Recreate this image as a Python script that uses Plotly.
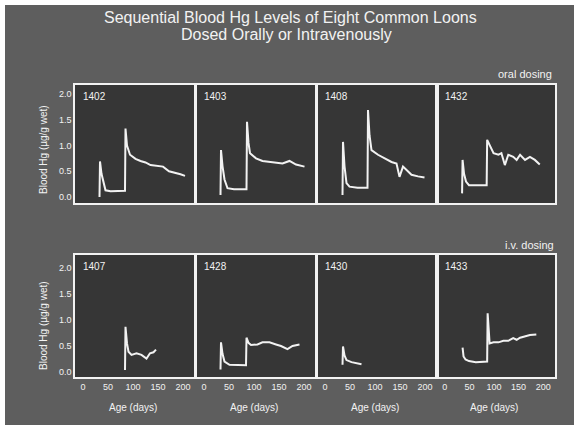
import plotly.graph_objects as go

# ---------------- data ----------------
bird_ids = ["1402", "1403", "1408", "1432", "1407", "1428", "1430", "1433"]

days_1402 = [33, 34, 37, 41, 45, 55, 70, 84, 85, 88, 94, 105, 115, 125, 135, 148, 160, 172, 185, 195, 204]
hg_1402 = [0.00, 0.69, 0.45, 0.28, 0.13, 0.11, 0.12, 0.12, 1.33, 1.00, 0.82, 0.74, 0.70, 0.67, 0.62, 0.60, 0.59, 0.50, 0.47, 0.44, 0.41]

days_1403 = [33, 34, 37, 41, 47, 60, 75, 85, 86, 89, 92, 104, 117, 131, 144, 157, 171, 184, 201]
hg_1403 = [0.04, 0.91, 0.60, 0.34, 0.17, 0.15, 0.15, 0.15, 1.46, 1.05, 0.85, 0.75, 0.70, 0.68, 0.67, 0.65, 0.70, 0.63, 0.59]

days_1408 = [35, 36, 39, 43, 49, 65, 85, 86, 89, 93, 106, 119, 133, 143, 149, 156, 163, 173, 186, 199]
hg_1408 = [0.04, 1.07, 0.60, 0.27, 0.20, 0.18, 0.18, 1.69, 1.20, 0.91, 0.82, 0.76, 0.68, 0.65, 0.39, 0.59, 0.52, 0.43, 0.40, 0.38]

days_1432 = [35, 36, 39, 43, 49, 65, 85, 86, 89, 93, 99, 109, 115, 122, 129, 139, 146, 153, 163, 173, 183, 193]
hg_1432 = [0.07, 0.72, 0.45, 0.30, 0.23, 0.23, 0.23, 1.11, 1.05, 0.98, 0.85, 0.82, 0.85, 0.62, 0.82, 0.78, 0.72, 0.82, 0.72, 0.78, 0.72, 0.63]

days_1407 = [84, 85, 88, 91, 97, 107, 117, 127, 134, 141, 146]
hg_1407 = [0.04, 0.87, 0.55, 0.39, 0.33, 0.36, 0.33, 0.26, 0.36, 0.38, 0.43]

days_1428 = [33, 34, 37, 41, 51, 65, 84, 85, 89, 94, 107, 117, 131, 144, 154, 167, 177, 191]
hg_1428 = [0.05, 0.57, 0.35, 0.20, 0.14, 0.13, 0.13, 0.66, 0.56, 0.52, 0.53, 0.57, 0.57, 0.53, 0.50, 0.44, 0.50, 0.53]

days_1430 = [35, 36, 39, 43, 53, 73]
hg_1430 = [0.14, 0.49, 0.32, 0.23, 0.19, 0.15]

days_1433 = [36, 38, 42, 49, 63, 84, 86, 87, 91, 99, 109, 119, 129, 139, 146, 153, 163, 173, 186]
hg_1433 = [0.47, 0.30, 0.24, 0.21, 0.19, 0.20, 0.20, 1.13, 0.55, 0.57, 0.57, 0.60, 0.60, 0.65, 0.62, 0.66, 0.68, 0.71, 0.72]

x_tick_vals = [0, 50, 100, 150, 200]
x_tick_text = ["0", "50", "100", "150", "200"]
y_tick_vals = [0, 0.5, 1.0, 1.5, 2.0]
y_tick_text = ["0.0", "0.5", "1.0", "1.5", "2.0"]

series = [
    (days_1402, hg_1402), (days_1403, hg_1403), (days_1408, hg_1408), (days_1432, hg_1432),
    (days_1407, hg_1407), (days_1428, hg_1428), (days_1430, hg_1430), (days_1433, hg_1433),
]

# ---------------- layout geometry (pixels) ----------------
W, H = 574, 432
col_px = [(75, 195), (196, 316), (317, 437), (437, 555)]
row_px = [(85, 203), (255, 377)]
row_yrange = [[-0.117, 2.175], [-0.096, 2.25]]

def px_x(p):
    return p / W

def px_y(p):
    return 1 - p / H

FONT = "Liberation Sans, Arial, sans-serif"
WHITE = "#f2f2f2"
SLIDE = "#5e5e5e"
PANEL = "#363636"

fig = go.Figure()
layout = dict(
    width=W, height=H,
    margin=dict(l=0, r=0, t=0, b=0),
    paper_bgcolor="white",
    plot_bgcolor="rgba(0,0,0,0)",
    showlegend=False,
    font=dict(family=FONT, color=WHITE),
)

shapes = [dict(type="rect", xref="paper", yref="paper",
               x0=px_x(5), x1=px_x(574), y0=px_y(425), y1=px_y(5),
               fillcolor=SLIDE, line=dict(width=0), layer="below")]
annotations = []

for i, (d, v) in enumerate(series):
    r, c = divmod(i, 4)
    n = i + 1
    xa = "xaxis" if n == 1 else f"xaxis{n}"
    ya = "yaxis" if n == 1 else f"yaxis{n}"
    xr = "x" if n == 1 else f"x{n}"
    yr = "y" if n == 1 else f"y{n}"
    x0, x1 = col_px[c]
    y0, y1 = row_px[r]
    fig.add_trace(go.Scatter(x=d, y=v, mode="lines", xaxis=xr, yaxis=yr,
                             line=dict(color=WHITE, width=2), hoverinfo="skip"))
    layout[xa] = dict(domain=[px_x(x0), px_x(x1)], anchor=yr, range=[-16, 224],
                      showline=True, linecolor=WHITE, linewidth=1.5, mirror=True,
                      showgrid=False, zeroline=False, ticks="",
                      tickvals=x_tick_vals, ticktext=x_tick_text,
                      showticklabels=(r == 1),
                      tickfont=dict(size=9, color=WHITE, family=FONT))
    layout[ya] = dict(domain=[px_y(y1), px_y(y0)], anchor=xr, range=row_yrange[r],
                      showline=True, linecolor=WHITE, linewidth=1.5, mirror=True,
                      showgrid=False, zeroline=False, ticks="",
                      tickvals=y_tick_vals, ticktext=y_tick_text,
                      showticklabels=(c == 0),
                      tickfont=dict(size=9, color=WHITE, family=FONT))
    shapes.append(dict(type="rect", xref="paper", yref="paper",
                       x0=px_x(x0), x1=px_x(x1), y0=px_y(y1), y1=px_y(y0),
                       fillcolor=PANEL, line=dict(width=0), layer="below"))
    annotations.append(dict(text=bird_ids[i], xref="paper", yref="paper",
                            x=px_x(x0 + 6), y=px_y(y0 + 11), xanchor="left", yanchor="middle",
                            showarrow=False, font=dict(size=10, color=WHITE, family=FONT)))
    if r == 1:
        annotations.append(dict(text="Age (days)", xref=xr, yref="paper",
                                x=100, y=px_y(407), xanchor="center", yanchor="middle",
                                showarrow=False, font=dict(size=10, color=WHITE, family=FONT)))

for yc in (150, 326):
    annotations.append(dict(text="Blood Hg (µg/g wet)", xref="paper", yref="paper",
                            x=px_x(43), y=px_y(yc), xanchor="center", yanchor="middle",
                            textangle=-90, showarrow=False,
                            font=dict(size=10, color=WHITE, family=FONT)))

annotations.append(dict(text="Sequential Blood Hg Levels of Eight Common Loons",
                        xref="paper", yref="paper", x=px_x(290), y=px_y(17),
                        xanchor="center", yanchor="middle", showarrow=False,
                        font=dict(size=16, color=WHITE, family=FONT)))
annotations.append(dict(text="Dosed Orally or Intravenously",
                        xref="paper", yref="paper", x=px_x(286), y=px_y(34),
                        xanchor="center", yanchor="middle", showarrow=False,
                        font=dict(size=16, color=WHITE, family=FONT)))
annotations.append(dict(text="oral dosing", xref="paper", yref="paper", x=px_x(554), y=px_y(74),
                        xanchor="right", yanchor="middle", showarrow=False,
                        font=dict(size=11, color=WHITE, family=FONT)))
annotations.append(dict(text="i.v. dosing", xref="paper", yref="paper", x=px_x(556), y=px_y(245),
                        xanchor="right", yanchor="middle", showarrow=False,
                        font=dict(size=11, color=WHITE, family=FONT)))

layout["shapes"] = shapes
layout["annotations"] = annotations
fig.update_layout(**layout)
fig.write_html("out.html", config={"displayModeBar": False},
               post_script="document.body.style.margin='0';")
